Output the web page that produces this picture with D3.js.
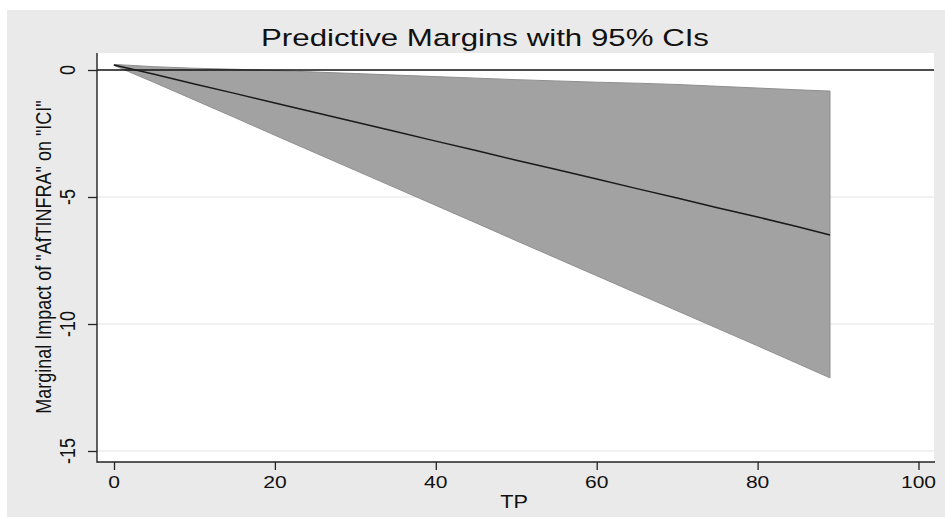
<!DOCTYPE html>
<html>
<head>
<meta charset="utf-8">
<script src="https://cdn.jsdelivr.net/npm/d3@7"></script>
<style>
html,body{margin:0;padding:0;background:#fff;}
svg{display:block;}
text{font-family:"Liberation Sans",Arial,Helvetica,sans-serif;fill:#111;}
</style>
</head>
<body>
<div id="chart"></div>
<script>
// ---- data ----
const tp      = [0, 5, 10, 15, 20, 25, 30, 35, 40, 45, 50, 55, 60, 65, 70, 75, 80, 85, 89];
const margin  = [0.20, -0.17, -0.55, -0.92, -1.30, -1.67, -2.05, -2.42, -2.80, -3.17, -3.55, -3.92, -4.29, -4.67, -5.04, -5.42, -5.79, -6.17, -6.50];
const upperCI = [0.22, 0.13, 0.07, 0.03, -0.02, -0.08, -0.14, -0.20, -0.26, -0.32, -0.38, -0.43, -0.48, -0.52, -0.57, -0.64, -0.71, -0.78, -0.83];
const lowerCI = [0.18, -0.49, -1.18, -1.87, -2.57, -3.26, -3.95, -4.64, -5.33, -6.02, -6.72, -7.41, -8.10, -8.79, -9.48, -10.17, -10.86, -11.56, -12.12];
const xTicks  = [0, 20, 40, 60, 80, 100];
const yTicks  = [0, -5, -10, -15];
const yGrid   = [-5, -10, -15];
const titleText = "Predictive Margins with 95% CIs";
const xTitle = "TP";
const yTitle = "Marginal Impact of \"AfTINFRA\" on \"ICI\"";

const W = 945, H = 518;
const plot = {left: 97, right: 934, top: 53, bottom: 462};
const sx = 1.24; // horizontal stretch of text in the reference

const svg = d3.select("#chart").append("svg").attr("width", W).attr("height", H);

svg.append("rect").attr("x", 7).attr("y", 10).attr("width", W - 7).attr("height", H - 11).attr("fill", "#eaeaea");
svg.append("rect").attr("x", plot.left).attr("y", plot.top)
  .attr("width", plot.right - plot.left).attr("height", plot.bottom - plot.top).attr("fill", "#fff");

const x = d3.scaleLinear().domain([0, 100]).range([114, 918.5]);
const y = d3.scaleLinear().domain([0, -15]).range([70, 451]);

// grid lines
svg.append("g").selectAll("line").data(yGrid).join("line")
  .attr("x1", plot.left).attr("x2", plot.right)
  .attr("y1", d => y(d)).attr("y2", d => y(d))
  .attr("stroke", "#ececec").attr("stroke-width", 1.5);

const rows = tp.map((t, i) => ({t, m: margin[i], u: upperCI[i], l: lowerCI[i]}));

// CI band
svg.append("path").datum(rows)
  .attr("d", d3.area().x(d => x(d.t)).y0(d => y(d.l)).y1(d => y(d.u)))
  .attr("fill", "#a2a2a2").attr("stroke", "#8f8f8f").attr("stroke-width", 1);

// zero reference line
svg.append("line").attr("x1", plot.left).attr("x2", plot.right)
  .attr("y1", y(0)).attr("y2", y(0)).attr("stroke", "#111").attr("stroke-width", 1.5);

// margin line
svg.append("path").datum(rows)
  .attr("d", d3.line().x(d => x(d.t)).y(d => y(d.m)))
  .attr("fill", "none").attr("stroke", "#1a1a1a").attr("stroke-width", 1.5);

// axes
const xAxis = d3.axisBottom(x).tickValues(xTicks).tickSize(8).tickFormat(d3.format("d"));
const gx = svg.append("g").attr("transform", `translate(0,${plot.bottom})`).call(xAxis);
gx.select(".domain").remove();
gx.selectAll(".tick line").attr("stroke", "#222").attr("stroke-width", 1.3);
gx.selectAll(".tick text").remove();
gx.append("line").attr("x1", plot.left).attr("x2", plot.right + 1).attr("y1", 0).attr("y2", 0)
  .attr("stroke", "#222").attr("stroke-width", 1.4);

const yAxis = d3.axisLeft(y).tickValues(yTicks).tickSize(9);
const gy = svg.append("g").attr("transform", `translate(${plot.left},0)`).call(yAxis);
gy.select(".domain").remove();
gy.selectAll(".tick line").attr("stroke", "#222").attr("stroke-width", 1.3);
gy.selectAll(".tick text").remove();
gy.append("line").attr("x1", 0).attr("x2", 0).attr("y1", plot.top).attr("y2", plot.bottom + 0.7)
  .attr("stroke", "#222").attr("stroke-width", 1.4);

// x tick labels
svg.append("g").selectAll("text").data(xTicks).join("text")
  .attr("transform", d => `translate(${x(d)},488) scale(${sx},1)`)
  .attr("text-anchor", "middle").attr("font-size", 17).text(d => d);

// y tick labels (rotated)
svg.append("g").selectAll("text").data(yTicks).join("text")
  .attr("transform", d => `translate(75,${y(d)}) scale(${sx},1) rotate(-90)`)
  .attr("text-anchor", "middle").attr("font-size", 18).text(d => d);

// titles
svg.append("text").attr("transform", `translate(485,46) scale(1.33,1)`)
  .attr("text-anchor", "middle").attr("font-size", 23.5).text(titleText);
svg.append("text").attr("transform", `translate(514,508) scale(${sx},1)`)
  .attr("text-anchor", "middle").attr("font-size", 17.5).text(xTitle);
svg.append("text").attr("transform", `translate(51,257) scale(${sx},1) rotate(-90)`)
  .attr("text-anchor", "middle").attr("font-size", 18).text(yTitle);
</script>
</body>
</html>
